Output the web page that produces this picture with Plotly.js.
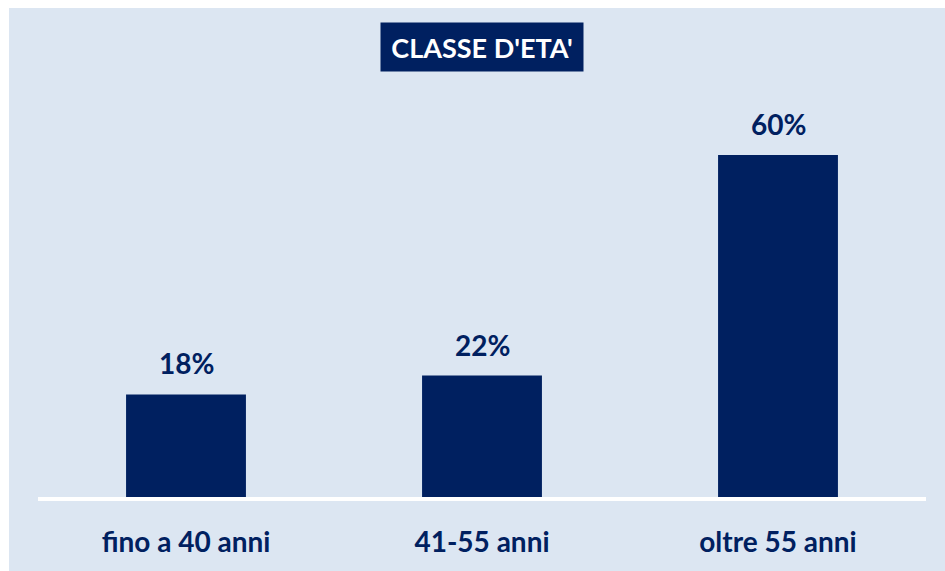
<!DOCTYPE html>
<html><head><meta charset="utf-8">
<script src="https://cdn.plot.ly/plotly-3.0.1.min.js"></script>
<style>html,body{margin:0;padding:0;background:#ffffff;}#chart{position:absolute;left:9px;top:8px;width:936px;height:563px;}</style>
</head><body><div id="chart"></div>
<script>
const categories = ["fino a 40 anni", "41-55 anni", "oltre 55 anni"];
const values = [18, 21.3, 60];
const labels = ["18%", "22%", "60%"];
const chartTitle = "CLASSE D'ETA'";

const navy = "#002060";
const bg = "#dce6f2";
const fontFam = "Lato, 'Open Sans', sans-serif";

const trace = {
  type: "bar", x: categories, y: values,
  marker: {color: navy}, width: 0.405, hoverinfo: "none"
};

const annotations = categories.map((c, i) => ({
  x: c, y: values[i], xref: "x", yref: "y", text: "<b>" + labels[i] + "</b>",
  showarrow: false, yanchor: "bottom", yshift: 12,
  font: {family: fontFam, size: 28, color: navy}
}));
annotations.push({
  x: 0.5, y: 1.128, xref: "paper", yref: "paper", text: "<b>" + chartTitle + "</b>",
  showarrow: false, xanchor: "center", yanchor: "middle", width: 198, height: 44, borderpad: 2,
  bgcolor: navy, font: {family: fontFam, size: 27, color: "#ffffff"}
});

const layout = {
  width: 936, height: 563,
  margin: {l: 29, r: 19, t: 90, b: 74},
  paper_bgcolor: bg, plot_bgcolor: bg,
  showlegend: false,
  xaxis: {
    type: "category", range: [-0.5, 2.5], showgrid: false, zeroline: false,
    showline: true, linecolor: "#ffffff", linewidth: 4,
    ticks: "", ticklabelstandoff: 17,
    tickfont: {family: fontFam, size: 28, color: navy}
  },
  yaxis: {range: [0, 70], visible: false, showgrid: false, zeroline: false},
  annotations: annotations
};
layout.xaxis.tickvals = categories;
layout.xaxis.ticktext = categories.map(c => "<b>" + c + "</b>");

Plotly.newPlot("chart", [trace], layout, {displayModeBar: false, staticPlot: true});
</script></body></html>
